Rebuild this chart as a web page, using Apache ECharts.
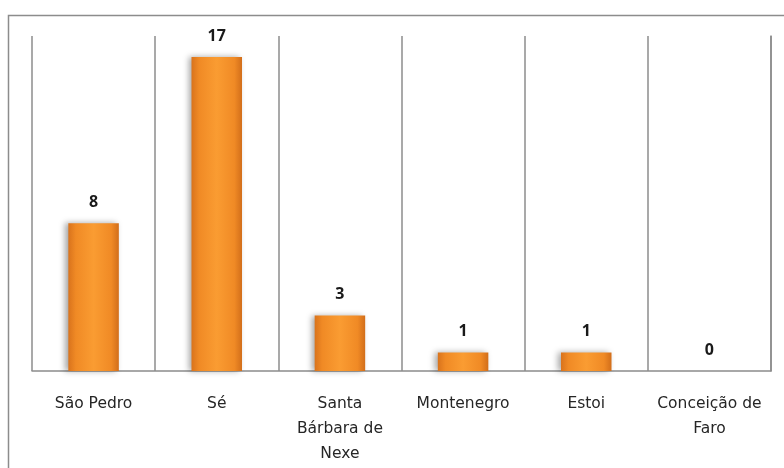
<!DOCTYPE html>
<html>
<head>
<meta charset="utf-8">
<script src="https://cdn.jsdelivr.net/npm/echarts@6/dist/echarts.min.js"></script>
<style>
  html, body { margin: 0; padding: 0; background: #fff; }
  #chart { width: 784px; height: 468px; }
</style>
</head>
<body>
<div id="chart"></div>
<script>
var categories = ['São Pedro', 'Sé', 'Santa\nBárbara de\nNexe', 'Montenegro', 'Estoi', 'Conceição de\nFaro'];
var values = [8, 17, 3, 1, 1, 0];

var myChart = echarts.init(document.getElementById('chart'));

// barra laranja com brilho no meio
var barColor = new echarts.graphic.LinearGradient(0, 0, 1, 0, [
  { offset: 0, color: '#d9731c' },
  { offset: 0.15, color: '#f08a25' },
  { offset: 0.5, color: '#fa9c32' },
  { offset: 0.85, color: '#f08a25' },
  { offset: 1, color: '#d26e1a' }
]);

myChart.setOption({
  animation: false,
  graphic: [{
    type: 'rect',
    shape: { x: 8.5, y: 15.5, width: 800, height: 500 },
    style: { fill: 'none', stroke: '#8c8c8c', lineWidth: 1.5 },
    silent: true
  }],
  grid: { left: 32, right: 13, top: 36, bottom: 97 },
  xAxis: {
    type: 'category',
    data: categories,
    axisLine: { lineStyle: { color: '#8c8c8c', width: 1.5 } },
    axisTick: { show: false },
    splitLine: { show: true, lineStyle: { color: '#8c8c8c', width: 1.5 } },
    axisLabel: {
      color: '#262626',
      fontFamily: 'DejaVu Sans',
      fontSize: 15.5,
      lineHeight: 25,
      margin: 20,
      interval: 0
    }
  },
  yAxis: {
    type: 'value',
    min: 0,
    max: 18.14,
    position: 'right',
    axisLine: { show: true, lineStyle: { color: '#8c8c8c', width: 1.5 } },
    axisTick: { show: false },
    axisLabel: { show: false },
    splitLine: { show: false }
  },
  series: [{
    type: 'bar',
    data: values,
    barWidth: '41%',
    itemStyle: {
      color: barColor,
      shadowColor: 'rgba(0,0,0,0.35)',
      shadowBlur: 6,
      shadowOffsetX: -3
    },
    label: {
      show: true,
      position: 'top',
      distance: 13,
      color: '#1a1a1a',
      fontFamily: 'Noto Sans',
      fontWeight: 'bold',
      fontSize: 16
    }
  }]
});
</script>
</body>
</html>
